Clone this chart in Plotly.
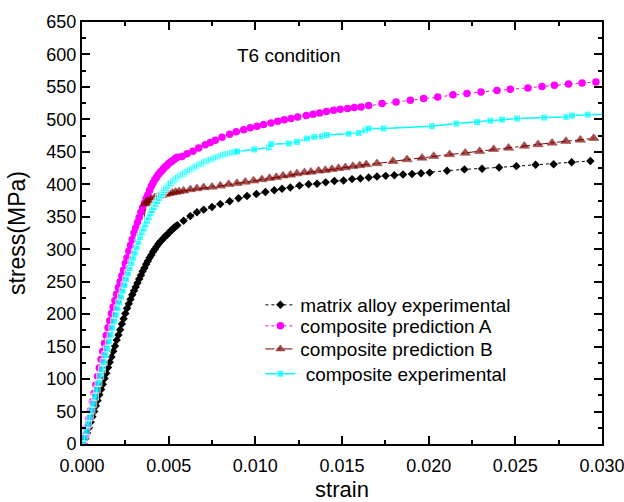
import plotly.graph_objects as go

# ---- matrix alloy experimental ----
matrix_strain = [
    0.0001, 0.0002, 0.0003, 0.0004, 0.0005, 0.0006, 0.0007, 0.0008, 0.0009, 0.0010,
    0.0011, 0.0012, 0.0013, 0.0014, 0.0015, 0.0016, 0.0017, 0.0018, 0.0019, 0.0020,
    0.0021, 0.0022, 0.0023, 0.0024, 0.0025, 0.0026, 0.0027, 0.0028, 0.0029, 0.0030,
    0.0031, 0.0032, 0.0033, 0.0034, 0.0035, 0.0036, 0.0037, 0.0038, 0.0039, 0.0040,
    0.0041, 0.0042, 0.0043, 0.0044, 0.0045, 0.0046, 0.0047, 0.0048, 0.0049, 0.0050,
    0.0051, 0.0052, 0.0053, 0.0054, 0.0055,
    0.00586, 0.00625, 0.00663, 0.00702, 0.00750, 0.00798, 0.00852, 0.00903, 0.00952,
    0.01006, 0.01058, 0.01109, 0.01154, 0.01202, 0.01255, 0.01307, 0.01356, 0.01406,
    0.01456, 0.01509, 0.01558, 0.01606, 0.01654, 0.01702, 0.01752, 0.01802, 0.01852,
    0.01904, 0.01956, 0.02006, 0.02106, 0.02206, 0.02308, 0.02406, 0.02506, 0.02617,
    0.02721, 0.02825, 0.02933,
]
matrix_stress = [
    0, 8, 17, 25, 34, 42, 50, 59, 67, 76,
    84, 92, 101, 109, 118, 126, 134, 143, 151, 160,
    168, 176, 185, 193, 201, 209, 216, 223, 230, 236,
    242, 248, 254, 260, 266, 271, 277, 282, 287, 291,
    296, 300, 304, 308, 311, 314, 317, 320, 322, 325,
    328, 330, 333, 335, 337,
    344, 351, 357, 361, 365, 369.5, 374, 378.5, 382,
    385, 388, 391, 393, 395, 398, 400, 401, 403,
    405, 406, 408, 409, 410.5, 412, 413, 414, 415,
    416, 417, 418, 421, 423, 424, 426, 428, 430,
    431, 434, 436,
]

# ---- composite prediction A ----
pred_a_strain = [
    0.0001, 0.0002, 0.0003, 0.0004, 0.0005, 0.0006, 0.0007, 0.0008, 0.0009, 0.0010,
    0.0011, 0.0012, 0.0013, 0.0014, 0.0015, 0.0016, 0.0017, 0.0018, 0.0019, 0.0020,
    0.0021, 0.0022, 0.0023, 0.0024, 0.0025, 0.0026, 0.0027, 0.0028, 0.0029, 0.0030,
    0.0031, 0.0032, 0.0033, 0.0034, 0.0035, 0.0036, 0.0037, 0.0038, 0.0039, 0.0040,
    0.0041, 0.0042, 0.0043, 0.0044, 0.0045, 0.0046, 0.0047, 0.0048, 0.0049, 0.0050,
    0.0051, 0.0052, 0.0053, 0.0054, 0.0055,
    0.00577, 0.00606, 0.00640, 0.00673, 0.00711, 0.00740, 0.00769, 0.00808, 0.00852,
    0.00890, 0.00933, 0.00971, 0.01010, 0.01048, 0.01090, 0.01129, 0.01167, 0.01206,
    0.01244, 0.01294, 0.01333, 0.01371, 0.01410, 0.01452, 0.01490, 0.01532, 0.01571,
    0.01610, 0.01654, 0.01731, 0.01812, 0.01894, 0.01971, 0.02052, 0.02140, 0.02221,
    0.02302, 0.02394, 0.02471, 0.02573, 0.02654, 0.02725, 0.02807, 0.02885, 0.02965,
]
pred_a_stress = [
    0, 13, 26, 39, 52, 65, 78, 91, 104, 117,
    130, 143, 155, 167, 179, 190, 201, 211, 221, 231,
    241, 250, 259, 268, 278, 287, 297, 306, 315, 325,
    333, 341, 349, 357, 364, 371, 378, 384, 391, 397,
    402, 407, 411, 415, 418, 421, 424, 427, 429, 432,
    434, 436, 438, 440, 441.5,
    443, 447, 451, 456, 461, 464.5, 468, 472.5, 477,
    481, 484, 487, 489.5, 492, 494.5, 497, 499.5, 501.5,
    503.5, 506, 508, 510, 512, 514, 515.6, 516.7, 518.2,
    519.2, 521.3, 524.4, 526.9, 529.5, 532, 534.6, 538, 540,
    542.3, 544.4, 546.4, 548.4, 550.6, 552.6, 554.6, 556.1, 557.7,
]

# ---- composite prediction B (first points: elastic branch, drawn without symbols) ----
pred_b_elastic_points = 6
pred_b_strain = [
    0.0001, 0.0010, 0.0020, 0.0030, 0.0035, 0.0036,
    0.00365, 0.0037, 0.00375, 0.0038, 0.0040, 0.0042, 0.0044, 0.0046, 0.0048, 0.0050,
    0.0052, 0.0054, 0.0056, 0.00586, 0.00625, 0.00663, 0.00702, 0.00750, 0.00798,
    0.00846, 0.00894, 0.00942, 0.00990, 0.01038, 0.01082, 0.01121, 0.01160, 0.01202,
    0.01240, 0.01283, 0.01321, 0.01365, 0.01404, 0.01442, 0.01480, 0.01519, 0.01563,
    0.01602, 0.01640, 0.01702, 0.01794, 0.01875, 0.01962, 0.02029, 0.02121, 0.02211,
    0.02294, 0.02375, 0.02461, 0.02552, 0.02631, 0.02712, 0.02792, 0.02875, 0.02952,
]
pred_b_stress = [
    0, 100, 200, 290, 330, 352,
    370, 372, 373, 374.5, 377, 379.5, 381.5, 383, 384.5, 386,
    387, 388, 389, 390, 392, 393.6, 395, 396, 397.6,
    400, 401.5, 403.7, 405.5, 407.5, 409.5, 411, 413, 414.5,
    416.5, 418.2, 419.1, 420.7, 421.7, 423.3, 424.8, 425.9, 427.9,
    429, 430.5, 432, 435.6, 438.2, 440.7, 443.3, 445.9, 448.4,
    451, 454, 456, 459.1, 461.3, 463.8, 466.4, 468.4, 471,
]

# ---- composite experimental (last point: end of the line at the frame) ----
comp_exp_strain = [
    0.00006, 0.00015, 0.00025, 0.00035, 0.00045, 0.00055, 0.00065, 0.00075, 0.00085, 0.00095,
    0.00105, 0.00115, 0.00125, 0.00135, 0.00145, 0.00155, 0.00165, 0.00175, 0.00185, 0.00195,
    0.00205, 0.00215, 0.00225, 0.00235, 0.00245, 0.00255, 0.00265, 0.00275, 0.00285, 0.00295,
    0.00305, 0.00315, 0.00325, 0.00335, 0.00345, 0.00355, 0.00365, 0.00375, 0.00385, 0.00395,
    0.00405, 0.00415, 0.00425, 0.00435, 0.00445, 0.00455, 0.00465, 0.00475, 0.00485, 0.00495,
    0.00505, 0.00515, 0.00525, 0.00535, 0.00545, 0.00555, 0.00565, 0.00575, 0.00585, 0.00595,
    0.00605, 0.00615, 0.00625, 0.00635, 0.00645, 0.00655, 0.00665, 0.00675, 0.00685, 0.00695,
    0.00705, 0.00715, 0.00725, 0.00735, 0.00745, 0.00755, 0.00765, 0.00775, 0.00785, 0.00795,
    0.00805, 0.00815, 0.00825, 0.00835, 0.00845, 0.00855, 0.00865, 0.00875, 0.00885, 0.00895,
    0.00994, 0.01077, 0.01090, 0.01192, 0.01240, 0.01298, 0.01340, 0.01385, 0.01413,
    0.01538, 0.01596, 0.01634, 0.01654, 0.01740, 0.02019, 0.02160, 0.02279, 0.02356,
    0.02423, 0.02510, 0.02667, 0.02794, 0.02827, 0.02917, 0.03000,
]
comp_exp_stress = [
    0, 9.5, 20, 31, 41, 52, 62, 73, 84, 94,
    105, 115, 126, 137, 147, 158, 168, 179, 189, 199,
    209, 218, 227, 236, 245, 254, 263, 271, 279, 287,
    295, 303, 311, 319, 326, 332, 338, 344, 349, 355,
    360, 365, 370, 374, 379, 383, 387, 391, 394, 397,
    400, 402, 405, 407, 409, 411, 413, 414, 416, 418,
    419, 421, 422, 424, 425, 427, 428, 430, 431, 432,
    434, 435, 436, 437, 438, 439, 440, 441, 442, 443,
    444, 445, 446, 446.5, 447, 448, 448.5, 449, 450, 450.5,
    453.6, 456.6, 461.8, 462.8, 465.3, 470.5, 473, 474, 476,
    478, 479, 483, 486, 486, 489.5, 493.6, 496, 498,
    499.7, 501.3, 502.8, 503.8, 505.9, 507.4, 508,
]

x_ticks = [0.000, 0.005, 0.010, 0.015, 0.020, 0.025, 0.030]
x_tick_text = ["0.000", "0.005", "0.010", "0.015", "0.020", "0.025", "0.030"]
y_ticks = list(range(0, 651, 50))

FONT = "Liberation Sans, Arial, Helvetica, sans-serif"
DARK_RED = "#7a0000"

b_sizes = [0] * pred_b_elastic_points + [9] * (len(pred_b_strain) - pred_b_elastic_points)
c_sizes = [7] * (len(comp_exp_strain) - 1) + [0]

fig = go.Figure()

fig.add_trace(go.Scatter(
    x=matrix_strain, y=matrix_stress, mode="lines+markers",
    name="matrix alloy experimental", showlegend=True,
    line=dict(color="black", width=1, dash="dot"),
    marker=dict(symbol="diamond", size=6.5, color="black"),
))
fig.add_trace(go.Scatter(
    x=pred_a_strain, y=pred_a_stress, mode="lines+markers",
    name="composite prediction A", legend="legend2", showlegend=True,
    line=dict(color="#ff00ff", width=1, dash="dot"),
    marker=dict(symbol="circle", size=7.5, color="#ff00ff"),
))
fig.add_trace(go.Scatter(
    x=pred_b_strain, y=pred_b_stress, mode="lines+markers",
    name="composite prediction B", legend="legend3", showlegend=True,
    line=dict(color=DARK_RED, width=1, dash="dashdot"),
    marker=dict(symbol="triangle-up", size=b_sizes, color=DARK_RED,
                line=dict(width=0.6, color=DARK_RED)),
))
fig.add_trace(go.Scatter(
    x=comp_exp_strain, y=comp_exp_stress, mode="lines+markers",
    name="\u00a0composite experimental", legend="legend4", showlegend=True,
    line=dict(color="#00ffff", width=1.5),
    marker=dict(symbol="square", size=c_sizes, color="#00ffff"),
))

axis_common = dict(
    showline=True, linewidth=2, linecolor="black", mirror="ticks",
    ticks="inside", ticklen=8, tickwidth=1.5, tickcolor="black",
    showgrid=False, zeroline=False, automargin=False,
    tickfont=dict(family=FONT, size=18, color="black"),
)

fig.update_xaxes(
    range=[0, 0.0300001], tickvals=x_ticks, ticktext=x_tick_text,
    ticklabelstandoff=4, ticklabeloverflow="allow",
    minor=dict(ticks="inside", ticklen=4, dtick=0.0025, tick0=0, tickcolor="black", tickwidth=1.5),
    title=dict(text="strain", font=dict(family=FONT, size=22, color="black"), standoff=10),
    **axis_common,
)
fig.update_yaxes(
    range=[0, 650], tickvals=y_ticks,
    minor=dict(ticks="inside", ticklen=4, dtick=25, tick0=0, tickcolor="black", tickwidth=1.5),
    title=dict(text="stress(MPa)", font=dict(family=FONT, size=23, color="black"), standoff=14),
    **axis_common,
)

fig.add_annotation(
    text="T6 condition", xref="paper", yref="paper", x=0.295, y=0.92,
    xanchor="left", yanchor="middle", showarrow=False,
    font=dict(family=FONT, size=19, color="black"),
)

# one legend box per series so the rows sit at their own heights
legend_style = dict(
    xanchor="left", yanchor="top", bgcolor="rgba(0,0,0,0)", borderwidth=0,
    font=dict(family=FONT, size=19, color="black"), itemwidth=30,
)
legend_x = 0.343
fig.update_layout(
    width=624, height=502,
    margin=dict(l=82, r=22, t=22, b=58, autoexpand=False),
    paper_bgcolor="white", plot_bgcolor="white",
    font=dict(family=FONT, color="black"),
    showlegend=True,
    legend=dict(x=legend_x, y=0.3744, **legend_style),
    legend2=dict(x=legend_x, y=0.3246, **legend_style),
    legend3=dict(x=legend_x, y=0.2700, **legend_style),
    legend4=dict(x=legend_x, y=0.2110, **legend_style),
)

fig.write_html("out.html")
